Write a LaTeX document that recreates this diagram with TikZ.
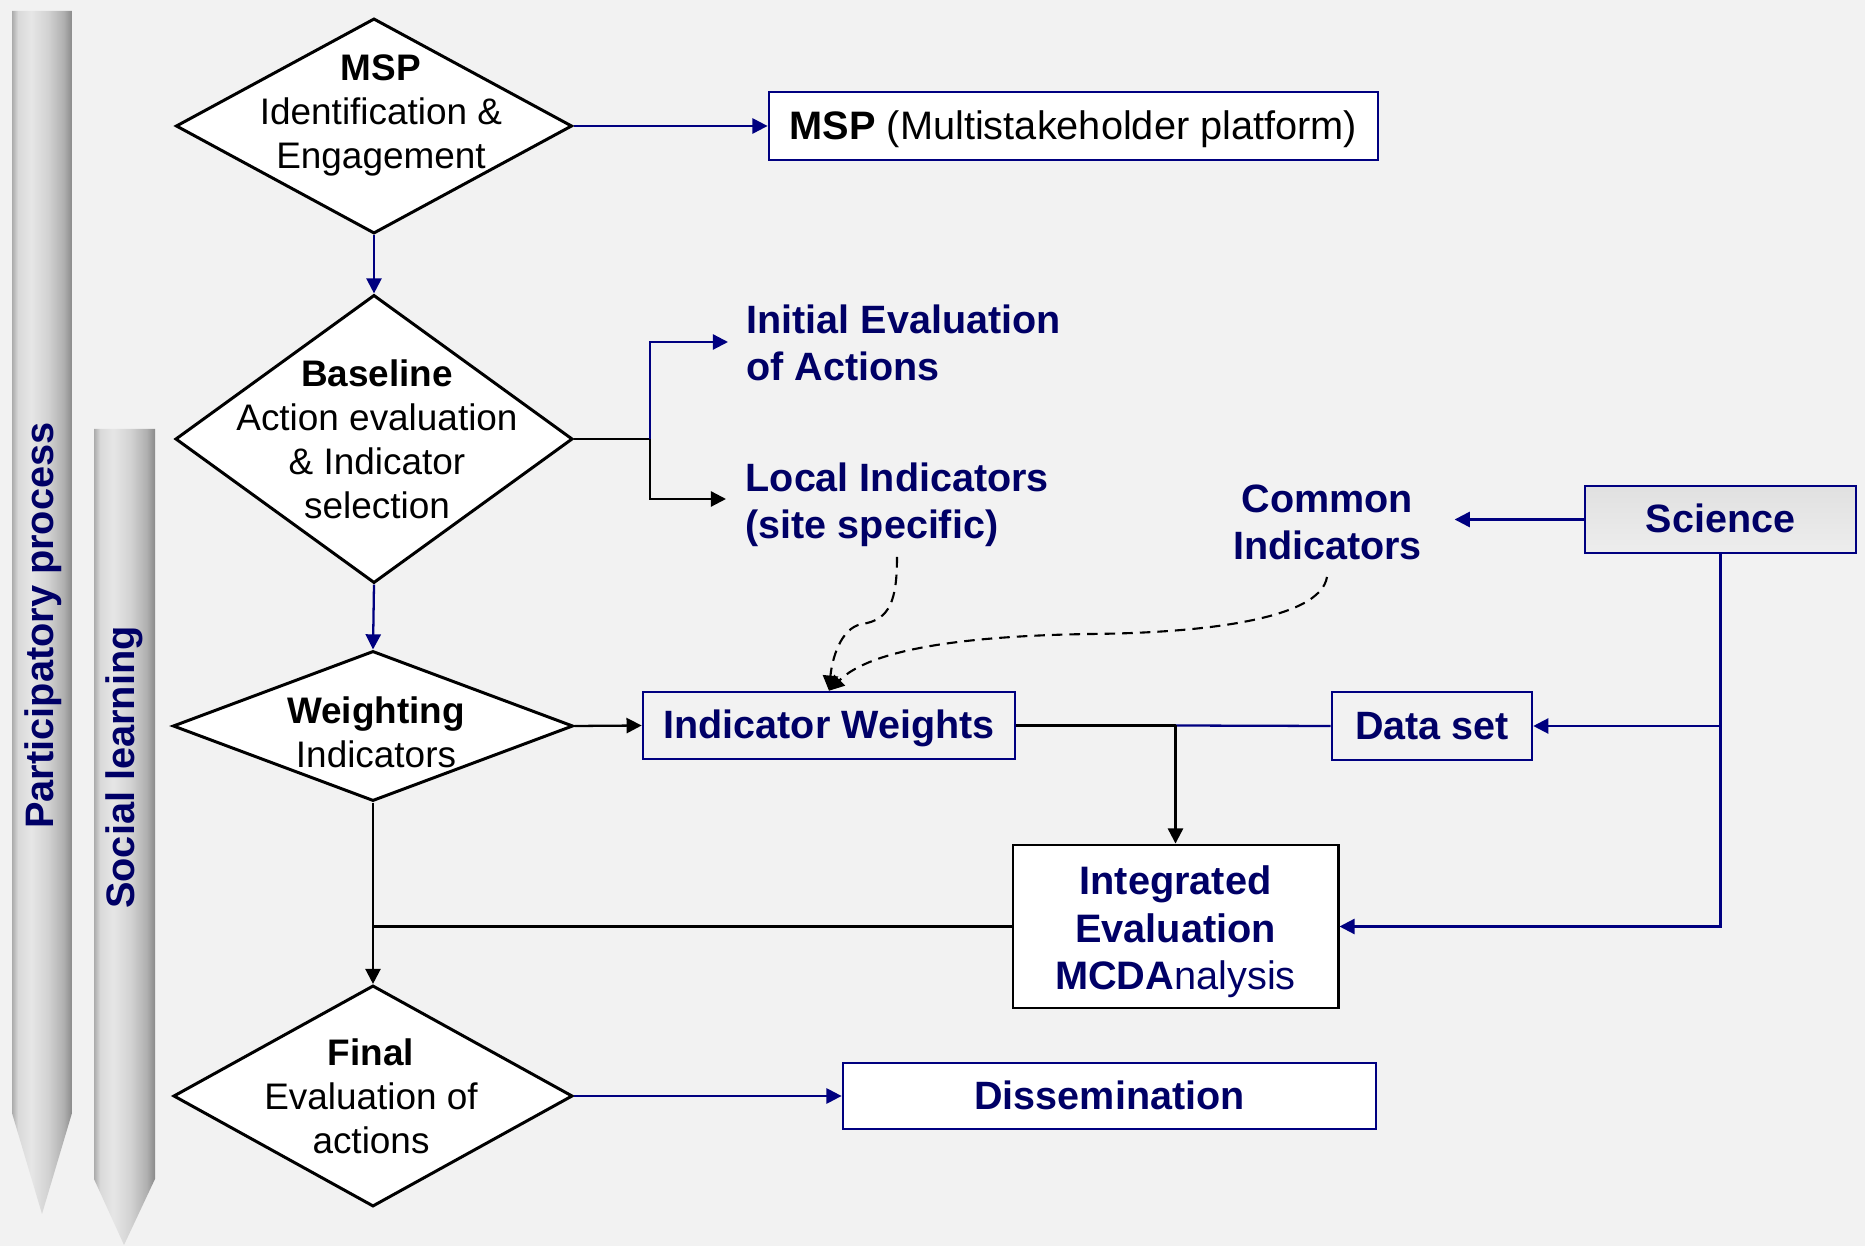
\documentclass[tikz,border=0pt]{standalone}
\usepackage{fontspec}
\setmainfont{Liberation Sans}
\usetikzlibrary{shapes.geometric,arrows.meta,calc}

\definecolor{bg}{HTML}{F2F2F2}
\definecolor{navyline}{RGB}{0,0,128}
\definecolor{navytext}{RGB}{0,0,102}
\definecolor{barA}{HTML}{ABABAB}
\definecolor{barB}{HTML}{D9D9D9}
\definecolor{barC}{HTML}{E6E6E6}
\definecolor{barD}{HTML}{D2D2D2}
\definecolor{barE}{HTML}{B0B0B0}
\definecolor{barF}{HTML}{8A8A8A}

% side-to-side gradient of the two pointed bars
\pgfdeclarehorizontalshading{barshade}{100bp}{color(0bp)=(barA); color(25bp)=(barA); color(30bp)=(barB); color(41bp)=(barC); color(55bp)=(barD); color(68bp)=(barE); color(75bp)=(barF); color(100bp)=(barF)}

\begin{document}
\begin{tikzpicture}[x=0.01cm,y=-0.01cm,
  dia/.style={diamond, draw=black, fill=white, line width=0.85pt, inner sep=0pt},
  dtxt/.style={align=center, inner sep=0pt, font=\fontsize{10.5}{12.5}\selectfont},
  ntxt/.style={text=navytext, inner sep=0pt, font=\fontsize{11.24}{13.4}\selectfont\bfseries},
  box/.style={draw=navyline, line width=0.7pt, inner sep=0pt},
  oneline/.style={text height=0.95em, text depth=0.21em},
  bartxt/.style={text=navytext, rotate=90, inner sep=0pt, font=\fontsize{11.3}{13}\selectfont\bfseries},
  conn/.style={line width=0.65pt},
  tip/.style={-{Triangle[length=4.3pt,width=4.3pt]}},
  dashline/.style={line width=0.6pt, dash pattern=on 3pt off 2pt},
]
% canvas
\fill[bg] (0,0) rectangle (1865,1246);
\useasboundingbox (0,0) rectangle (1865,1246);

% pointed side bars
\path[shading=barshade] (12,11) -- (72,11) -- (72,1113) -- (42,1214) -- (12,1113) -- cycle;
\path[shading=barshade] (94,429) -- (155,429) -- (155,1179) -- (124,1245) -- (94,1179) -- cycle;
\node[bartxt] (partic) at (43,625.5) {Participatory process};
\node[bartxt] (social) at (124,767.5) {Social learning};

% decision diamonds
\node[dia, minimum width=3.96cm, minimum height=2.15cm] (msp) at (374,126) {};
\node[dia, minimum width=3.97cm, minimum height=2.88cm] (base) at (374,439) {};
\node[dia, minimum width=4.00cm, minimum height=1.50cm] (wgt) at (373,726) {};
\node[dia, minimum width=3.99cm, minimum height=2.21cm] (fin) at (373,1096) {};

\node[dtxt] (msptxt) at (381,115) {\textbf{MSP}\\Identification \&\\Engagement};
\node[dtxt] (basetxt) at (377,439) {\textbf{Baseline}\\Action evaluation\\\& Indicator\\selection};
\node[dtxt] (wgttxt) at (376,732) {\textbf{Weighting}\\Indicators};
\node[dtxt] (fintxt) at (371,1096) {\textbf{Final}\\Evaluation of\\actions};

% boxes
\node[box, oneline, fill=white, minimum width=6.09cm, minimum height=0.68cm,
      font=\fontsize{11.3}{13}\selectfont] (mspbox) at (1073.5,126) {\textbf{MSP} (Multistakeholder platform)};
\node[box, ntxt, oneline, minimum width=3.72cm, minimum height=0.67cm] (iw) at (829,725.5) {Indicator Weights};
\node[box, ntxt, oneline, minimum width=2.00cm, minimum height=0.68cm] (ds) at (1432,726) {Data set};
\node[box, ntxt, oneline, top color=gray!24, middle color=gray!4, bottom color=gray!14,
      minimum width=2.71cm, minimum height=0.67cm] (sci) at (1720.5,519.5) {Science};
\node[box, ntxt, draw=black, line width=0.8pt, fill=white, align=center,
      minimum width=3.25cm, minimum height=1.63cm,
      font=\fontsize{11.3}{13.5}\selectfont\bfseries] (intg) at (1175.5,926.5)
      {\rule{0pt}{1em}Integrated\\Evaluation\\MCDA\mdseries nalysis};
\node[box, ntxt, oneline, fill=white, minimum width=5.33cm, minimum height=0.66cm] (dis) at (1109.5,1096) {Dissemination};

% free-standing labels
\node[ntxt, anchor=west, align=left] (ini) at (746,343) {Initial Evaluation\\of Actions};
\node[ntxt, anchor=west, align=left] (loc) at (745,505) {Local Indicators\\(site specific)};
\node[ntxt, align=center] (com) at (1327.5,522) {Common\\Indicators};

% main flow
\draw[conn, navyline, tip] (msp.south) -- (base.north);
\draw[conn, navyline, tip] (msp.east) -- (mspbox.west);
\draw[conn, navyline, tip] (base.south) -- (wgt.north);
\draw[conn, tip] (wgt.east) -- (iw.west);
\draw[conn, tip] (wgt.south) -- (fin.north);
\draw[conn, navyline, tip] (fin.east) -- (dis.west);

% baseline outputs
\coordinate (j1) at (650,439);
\draw[conn] (base.east) -- (j1);
\draw[conn, navyline, tip] (j1) |- ([xshift=-0.18cm,yshift=0.01cm]ini.west);
\draw[conn, tip] (j1) |- ([xshift=-0.19cm,yshift=0.06cm]loc.west);

% weights and data into the integrated evaluation
\coordinate (j2) at (intg.north |- iw.east);
\draw[conn] (iw.east) -- (j2);
\draw[conn, navyline] (j2) -- (ds.west);
\draw[conn, tip] (j2) -- (intg.north);
\draw[conn] (intg.west) -- (intg.west -| wgt.south);

% science feeds
\draw[conn, navyline, tip] (sci.south) |- (intg.east);
\draw[conn, navyline, tip] (sci.south |- ds.east) -- (ds.east);
\draw[conn, navyline, tip] (sci.west) -- ([xshift=0.32cm]com.east |- sci.west);

% indicator sources
\coordinate (locfoot) at (897,557);
\coordinate (comfoot) at (1327,577);
\draw[dashline, tip] (locfoot) .. controls (897,600) and (890,620) .. (862,624)
  .. controls (840,628) and (832,660) .. (iw.north);
\draw[dashline, tip] (comfoot) .. controls (1320,620) and (1200,633) .. (1090,634)
  .. controls (960,636) and (870,650) .. (iw.north);
\end{tikzpicture}
\end{document}
